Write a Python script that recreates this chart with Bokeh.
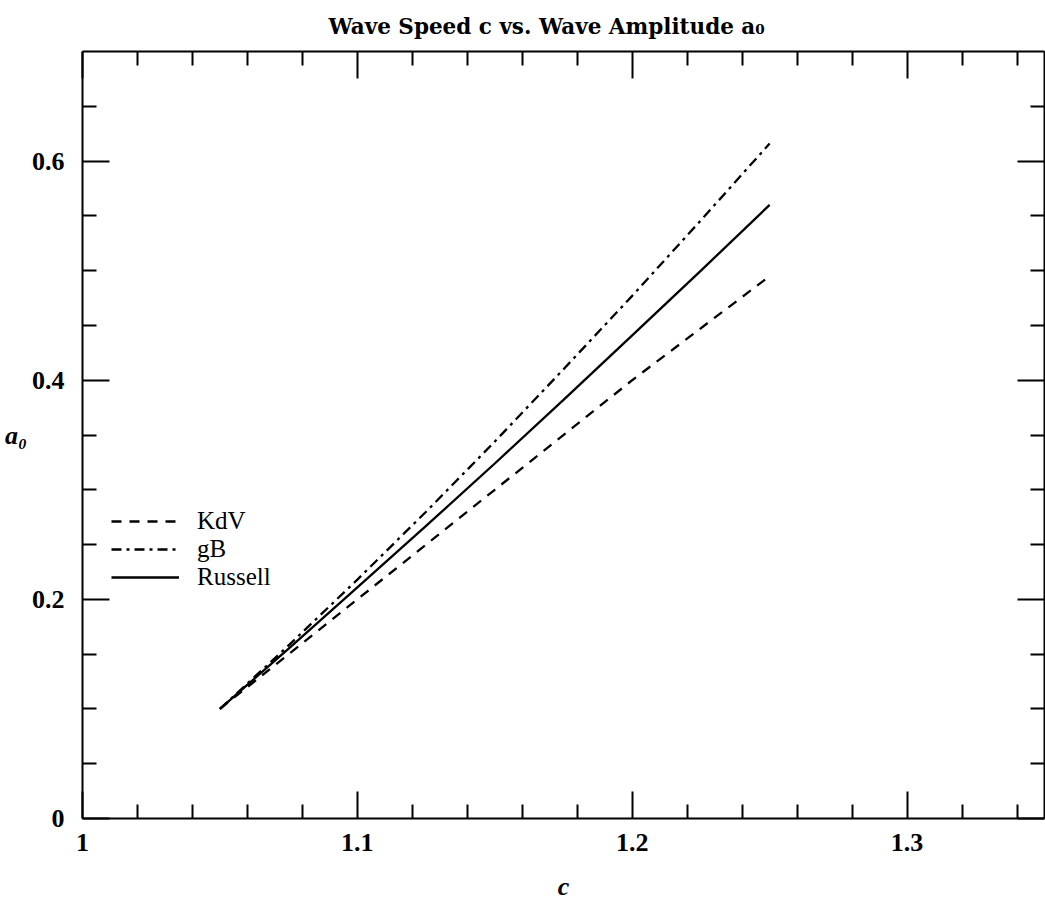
from bokeh.plotting import figure
from bokeh.models import (LinearAxis, FixedTicker, NumeralTickFormatter, Range1d,
                          Legend, LegendItem)
from bokeh.embed import file_html
from bokeh.resources import INLINE

# ---- data ----
c_russell = [1.05, 1.075, 1.1, 1.125, 1.15, 1.175, 1.2, 1.225, 1.25]
a_russell = [0.10, 0.155, 0.211, 0.267, 0.324, 0.382, 0.441, 0.500, 0.560]
c_gb = [1.05, 1.075, 1.1, 1.125, 1.15, 1.175, 1.2, 1.225, 1.25]
a_gb = [0.10, 0.158, 0.218, 0.280, 0.344, 0.410, 0.477, 0.546, 0.616]
c_kdv = [1.05, 1.1, 1.15, 1.2, 1.25]
a_kdv = [0.10, 0.20, 0.30, 0.40, 0.495]

series_labels = ["KdV", "gB", "Russell"]

x_major = [1.0, 1.1, 1.2, 1.3]
x_minor = [1.02, 1.04, 1.06, 1.08, 1.12, 1.14, 1.16, 1.18,
           1.22, 1.24, 1.26, 1.28, 1.32, 1.34]
y_major = [0.0, 0.2, 0.4, 0.6]
y_minor = [0.05, 0.1, 0.15, 0.25, 0.3, 0.35, 0.45, 0.5, 0.55, 0.65]

SERIF = "Liberation Serif"

p = figure(width=1045, height=905, output_backend="svg", toolbar_location=None,
           x_range=Range1d(1.0, 1.35), y_range=Range1d(0.0, 0.7),
           x_axis_type=None, y_axis_type=None,
           min_border_left=82, min_border_right=1, min_border_top=51,
           min_border_bottom=87)
p.background_fill_color = "white"
p.border_fill_color = "white"
p.outline_line_color = None

p.title.text = "Wave Speed c vs. Wave Amplitude a\u2080"
p.title.text_font = "DejaVu Serif"
p.title.text_font_style = "bold"
p.title.text_font_size = "21.5px"
p.title.align = "left"
p.title.offset = 246
p.title.standoff = 24
p.title.vertical_align = "middle"
p.title.text_color = "black"

xt = FixedTicker(ticks=x_major, minor_ticks=x_minor)
yt = FixedTicker(ticks=y_major, minor_ticks=y_minor)


def style_axis(ax, labels):
    ax.axis_line_width = 2
    ax.axis_line_color = "black"
    ax.major_tick_line_width = 2
    ax.minor_tick_line_width = 2
    ax.major_tick_line_color = "black"
    ax.minor_tick_line_color = "black"
    ax.major_tick_in = 27
    ax.major_tick_out = 0
    ax.minor_tick_in = 14
    ax.minor_tick_out = 0
    ax.formatter = NumeralTickFormatter(format="0.[0]")
    if labels:
        ax.major_label_text_font = SERIF
        ax.major_label_text_font_style = "bold"
        ax.major_label_text_font_size = "26px"
        ax.major_label_text_color = "black"
        ax.axis_label_text_font = SERIF
        ax.axis_label_text_font_style = "bold italic"
        ax.axis_label_text_font_size = "26px"
        ax.axis_label_text_color = "black"
    else:
        ax.major_label_text_font_size = "0px"
        ax.major_label_text_color = None


xb = LinearAxis(ticker=xt, axis_label="c")
style_axis(xb, True)
xb.major_label_standoff = 15
xb.axis_label_standoff = 18
p.add_layout(xb, "below")

yl = LinearAxis(ticker=yt, axis_label="a\u2080")
style_axis(yl, True)
yl.major_label_standoff = 18
yl.axis_label_standoff = 2
try:
    yl.axis_label_orientation = "horizontal"
except Exception:
    pass
p.add_layout(yl, "left")

xa = LinearAxis(ticker=xt)
style_axis(xa, False)
xa.major_label_standoff = 0
p.add_layout(xa, "above")

yr = LinearAxis(ticker=yt)
style_axis(yr, False)
yr.major_label_standoff = 0
p.add_layout(yr, "right")

r_kdv = p.line(c_kdv, a_kdv, line_color="black", line_width=2.3, line_dash="10 8")
r_gb = p.line(c_gb, a_gb, line_color="black", line_width=2.3, line_dash="10 5 3 5")
r_rus = p.line(c_russell, a_russell, line_color="black", line_width=2.3)

# one legend per row so the row pitch matches the reference
legend_rows = [(series_labels[0], r_kdv, 283),
               (series_labels[1], r_gb, 255),
               (series_labels[2], r_rus, 227)]
for lab, rend, ypos in legend_rows:
    lg = Legend(items=[LegendItem(label=lab, renderers=[rend])],
                location=(29, ypos), orientation="vertical")
    lg.border_line_color = None
    lg.background_fill_alpha = 0
    lg.padding = 0
    lg.margin = 0
    lg.spacing = 0
    lg.glyph_width = 68
    lg.glyph_height = 28
    lg.label_height = 28
    lg.label_standoff = 18
    lg.label_text_font = SERIF
    lg.label_text_font_size = "25px"
    lg.label_text_color = "black"
    lg.label_text_baseline = "middle"
    p.add_layout(lg, "center")

open("out.html", "w").write(file_html(p, INLINE))
